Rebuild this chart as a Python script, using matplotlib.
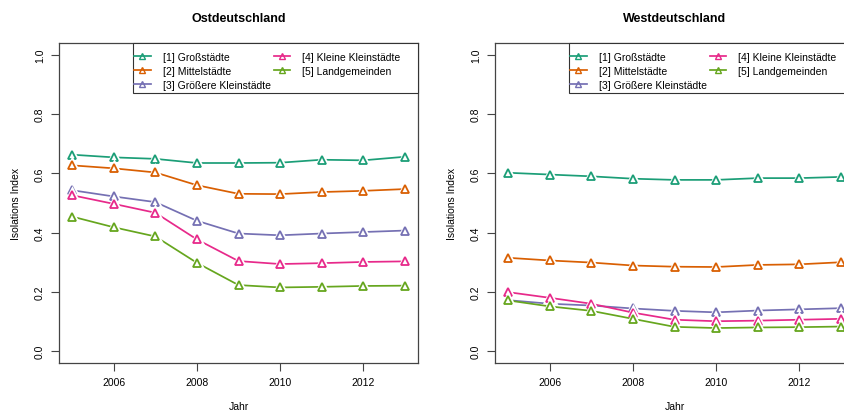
import matplotlib
matplotlib.use("Agg")
import matplotlib.pyplot as plt
from matplotlib.patches import Rectangle

plt.rcParams["font.family"] = ["Liberation Sans", "DejaVu Sans"]

years = [2005, 2006, 2007, 2008, 2009, 2010, 2011, 2012, 2013]
groups = ["[1] Großstädte", "[2] Mittelstädte", "[3] Größere Kleinstädte",
          "[4] Kleine Kleinstädte", "[5] Landgemeinden"]
colors = ["#1B9E77", "#D95F02", "#7570B3", "#E7298A", "#66A61E"]

# isolation index per settlement type, east
ost_gross = [0.663, 0.654, 0.649, 0.635, 0.635, 0.636, 0.646, 0.644, 0.656]
ost_mittel = [0.627, 0.617, 0.603, 0.560, 0.531, 0.530, 0.537, 0.541, 0.547]
ost_groesser = [0.543, 0.522, 0.503, 0.440, 0.397, 0.391, 0.397, 0.402, 0.407]
ost_klein = [0.526, 0.497, 0.467, 0.377, 0.304, 0.294, 0.297, 0.301, 0.303]
ost_land = [0.454, 0.418, 0.387, 0.298, 0.223, 0.215, 0.217, 0.220, 0.221]

# isolation index per settlement type, west
west_gross = [0.602, 0.596, 0.590, 0.582, 0.578, 0.578, 0.584, 0.584, 0.588]
west_mittel = [0.315, 0.306, 0.299, 0.289, 0.285, 0.284, 0.291, 0.293, 0.300]
west_groesser = [0.172, 0.160, 0.154, 0.144, 0.136, 0.131, 0.137, 0.141, 0.145]
west_klein = [0.199, 0.180, 0.160, 0.130, 0.106, 0.101, 0.103, 0.106, 0.109]
west_land = [0.171, 0.151, 0.136, 0.109, 0.082, 0.078, 0.080, 0.081, 0.083]

panels = [
    ("Ostdeutschland", [ost_gross, ost_mittel, ost_groesser, ost_klein, ost_land]),
    ("Westdeutschland", [west_gross, west_mittel, west_groesser, west_klein, west_land]),
]

FS = 7.5
AXC = "#444444"
fig = plt.figure(figsize=(8.44, 4.14), dpi=100)
lefts = [59 / 844, 495 / 844]
for left, (title, series) in zip(lefts, panels):
    ax = fig.add_axes([left, 50 / 414, 359 / 844, 320 / 414])
    for i, (vals, col, name) in enumerate(zip(series, colors, groups)):
        z = 2 + i * 3
        ax.plot(years, vals, color=col, lw=1.25, zorder=z)
        # white halo leaves a small gap between segments and symbols
        ax.plot(years, vals, ls="none", marker="^", ms=5.5, mfc="white",
                mec="white", mew=3.5, zorder=z + 1)
        ax.plot(years, vals, ls="none", marker="^", ms=5.5, mfc="white",
                mec=col, mew=1.3, zorder=z + 2)
        ax.plot([], [], color=col, lw=1.25, marker="^", ms=4.5,
                mfc="none", mec=col, mew=1.0, label=name)
    ax.set_xlim(2004.68, 2013.32)
    ax.set_ylim(-0.04, 1.04)
    ax.set_xticks([2006, 2008, 2010, 2012])
    ax.set_yticks([0.0, 0.2, 0.4, 0.6, 0.8, 1.0])
    ax.set_yticklabels(["0.0", "0.2", "0.4", "0.6", "0.8", "1.0"],
                       rotation=90, va="center")
    ax.tick_params(length=6, width=0.8, color=AXC, labelsize=FS, pad=4)
    for sp in ax.spines.values():
        sp.set_color(AXC)
        sp.set_linewidth(0.9)
    ax.set_title(title, fontsize=9, fontweight="bold", pad=16)
    ax.set_xlabel("Jahr", fontsize=FS, labelpad=10)
    ax.set_ylabel("Isolations Index", fontsize=FS, labelpad=10)

    # legend box pinned to the top-right corner, entries in two columns
    box = Rectangle((0.206, 0.844), 0.794, 0.156, transform=ax.transAxes,
                    facecolor="white", edgecolor="#333333", lw=0.8,
                    zorder=25, clip_on=False)
    ax.add_patch(box)
    leg = ax.legend(loc="upper left", bbox_to_anchor=(0.1915, 0.991),
                    borderaxespad=0, ncol=2, fontsize=FS, frameon=False,
                    handlelength=1.6, handletextpad=1.15, columnspacing=0.3,
                    labelspacing=0.36, borderpad=0.6)
    leg.set_zorder(30)

fig.savefig("out.png", dpi=100, facecolor="white")
